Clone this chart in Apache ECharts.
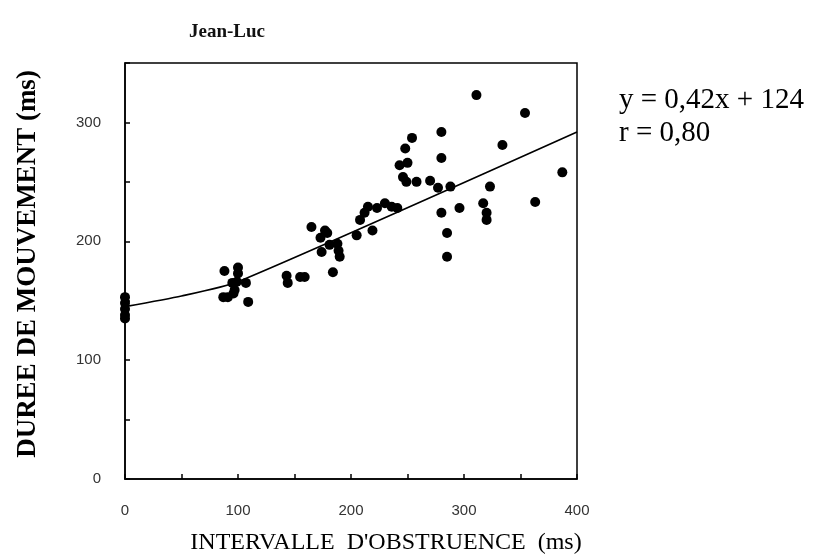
<!DOCTYPE html>
<html>
<head>
<meta charset="utf-8">
<script src="https://cdn.jsdelivr.net/npm/echarts@6/dist/echarts.min.js"></script>
<style>
  html, body { margin: 0; padding: 0; background: #fff; }
  #chart { width: 829px; height: 555px; }
</style>
</head>
<body>
<div id="chart"></div>
<script>
  // points (intervalle, durée)
  const obstruX = [
    0, 0, 0, 0, 0,
    88, 100, 100, 87, 95, 99, 96, 107, 109, 91, 97,
    143, 144, 155, 159,
    165, 177, 179, 173, 174, 181, 188, 189, 190, 184,
    205, 219, 208, 212, 215, 223, 230, 236, 241,
    311, 354, 280, 254, 248, 334, 243, 250, 280, 246, 249, 258, 270, 277, 288,
    387, 323, 280, 296, 317, 320, 320, 363, 285, 285
  ];
  const dureeY = [
    153, 148, 143, 138, 135,
    175, 178, 173, 153, 165, 166, 156, 165, 149, 153, 159,
    171, 165, 170, 170,
    212, 209, 207, 203, 191, 197, 198, 192, 187, 174,
    205, 209, 218, 224, 229, 228, 232, 229, 228,
    323, 308, 292, 287, 278, 281, 264, 266, 270, 254, 250, 250, 251, 245, 246,
    258, 246, 224, 228, 232, 224, 218, 233, 207, 187
  ];
  // fitted curve as drawn
  const fitX = [0, 50, 100, 400];
  const fitY = [145, 154, 166, 292];

  const titleText = 'Jean-Luc';
  const xName = "INTERVALLE  D'OBSTRUENCE  (ms)";
  const yName = 'DUREE DE MOUVEMENT (ms)';
  const eqLines = ['y = 0,42x + 124', 'r = 0,80'];

  const chart = echarts.init(document.getElementById('chart'));

  const option = {
    animation: false,
    backgroundColor: '#fff',
    title: {
      text: titleText,
      left: 222,
      top: 18,
      textAlign: 'center',
      textStyle: { fontFamily: 'Liberation Serif', fontWeight: 'bold', fontSize: 19, color: '#111' }
    },
    graphic: [
      {
        type: 'text', x: 619, y: 100,
        style: { text: eqLines[0], font: '29px "Liberation Serif"', fill: '#000', verticalAlign: 'middle' }
      },
      {
        type: 'text', x: 619, y: 133,
        style: { text: eqLines[1], font: '29px "Liberation Serif"', fill: '#000', verticalAlign: 'middle' }
      },
      {
        type: 'text', x: 386, y: 543,
        style: { text: xName, font: '24px "Liberation Serif"', fill: '#000', align: 'center', verticalAlign: 'middle' }
      },
      {
        type: 'text', x: 28, y: 264, rotation: Math.PI / 2,
        style: { text: yName, font: 'bold 27px "Liberation Serif"', fill: '#000', align: 'center', verticalAlign: 'middle' }
      }
    ],
    grid: {
      left: 125, right: 252, top: 63, bottom: 76,
      show: true, borderColor: '#000', borderWidth: 1.5
    },
    xAxis: {
      type: 'value',
      min: 0, max: 400, interval: 50,
      axisLine: { lineStyle: { color: '#000', width: 1.5 } },
      axisTick: { inside: true, length: 5, lineStyle: { color: '#000', width: 1.5 } },
      splitLine: { show: false },
      axisLabel: {
        margin: 24,
        color: '#333', fontFamily: 'Liberation Sans', fontSize: 15,
        formatter: v => (v % 100 === 0 ? String(v) : '')
      }
    },
    yAxis: {
      type: 'value',
      min: 0, max: 350, interval: 50,
      axisLine: { lineStyle: { color: '#000', width: 1.5 } },
      axisTick: { inside: true, length: 5, lineStyle: { color: '#000', width: 1.5 } },
      splitLine: { show: false },
      axisLabel: {
        margin: 24,
        color: '#333', fontFamily: 'Liberation Sans', fontSize: 15,
        formatter: v => (v % 100 === 0 ? String(v) : '')
      }
    },
    series: [
      {
        type: 'line',
        data: fitX.map((x, i) => [x, fitY[i]]),
        showSymbol: false,
        smooth: 0.2,
        lineStyle: { color: '#000', width: 1.6 },
        z: 2
      },
      {
        type: 'scatter',
        data: obstruX.map((x, i) => [x, dureeY[i]]),
        symbolSize: 10,
        itemStyle: { color: '#000', opacity: 1 },
        z: 3
      }
    ]
  };

  chart.setOption(option);
</script>
</body>
</html>
